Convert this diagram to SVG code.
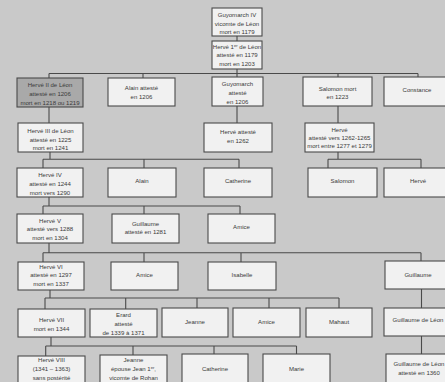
<svg xmlns="http://www.w3.org/2000/svg" width="445" height="382" viewBox="0 0 445 382">
<style>
.b{fill:#f1f1f1;stroke:#4a4a4a;stroke-width:1.1}
.g{fill:#a9a9a9;stroke:#4a4a4a;stroke-width:1.1}
text{font-family:"Liberation Sans",Arial,sans-serif;font-size:6.05px;fill:#3a3a3a;text-anchor:middle}
.c{fill:none;stroke:#4a4a4a;stroke-width:1.1}
.s{font-size:4.1px}
</style>
<rect width="445" height="382" fill="#c9c9c9"/>
<g id="connectors" class="c">
<path d="M237 36V41M237 69V73.5M49 73.5H418M49 73.5V78M143 73.5V78M237 73.5V77M338 73.5V77M418 73.5V77"/>
<path d="M49 107V123M237 106V123M338 106V123"/>
<path d="M50 152V159.3M43 159.3H239M43 159.3V168M144 159.3V168M239 159.3V168"/>
<path d="M338 152V159.3M328 159.3H421M328 159.3V168M421 159.3V168"/>
<path d="M49 197V206M43 206H240M43 206V214M144 206V214M240 206V214"/>
<path d="M49 243V252.7M43 252.7H421M43 252.7V262M144 252.7V262M241 252.7V262M421 252.7V261"/>
<path d="M50 290V298M45 298H339M45 298V309M125.7 298V309M197 298V308M269 298V308M339 298V308"/>
<path d="M421.5 289V308M421.5 336V354"/>
<path d="M51 337V346M45.7 346H296.5M45.7 346V356M133 346V355M214 346V354M296.5 346V354"/>
</g>
<g id="n1"><rect class="b" x="212" y="8" width="50" height="28"/><text><tspan x="237" y="17.2">Guyomarch IV</tspan><tspan x="237" y="25.5">vicomte de Léon</tspan><tspan x="237" y="33.9">mort en 1179</tspan></text></g>
<g id="n2"><rect class="b" x="212" y="41" width="50" height="28"/><text><tspan x="237" y="48.9">Hervé 1<tspan class="s" baseline-shift="super">er</tspan> de Léon</tspan><tspan x="237" y="57.2">attesté en 1179</tspan><tspan x="237" y="66">mort en 1203</tspan></text></g>
<g id="n3"><rect class="g" x="17" y="78" width="66" height="29"/><text><tspan x="50" y="87.2">Hervé II de Léon</tspan><tspan x="50" y="96.2">attesté en 1206</tspan><tspan x="50" y="104.9">mort en 1218 ou 1219</tspan></text></g>
<g id="n4"><rect class="b" x="108" y="78" width="67" height="28"/><text><tspan x="141.5" y="89.5">Alain attesté</tspan><tspan x="141.5" y="98.9">en 1206</tspan></text></g>
<g id="n5"><rect class="b" x="212" y="77" width="51" height="29"/><text><tspan x="237.5" y="86.2">Guyomarch</tspan><tspan x="237.5" y="94.5">attesté</tspan><tspan x="237.5" y="103.5">en 1206</tspan></text></g>
<g id="n6"><rect class="b" x="303" y="77" width="69" height="29"/><text><tspan x="337.5" y="90.5">Salomon mort</tspan><tspan x="337.5" y="98.9">en 1223</tspan></text></g>
<g id="n7"><rect class="b" x="384" y="77" width="68" height="29"/><text x="417" y="92.2">Constance</text></g>
<g id="n8"><rect class="b" x="18" y="123" width="65" height="29"/><text><tspan x="50.5" y="133.2">Hervé III de Léon</tspan><tspan x="50.5" y="141.5">attesté en 1225</tspan><tspan x="50.5" y="149.9">mort en 1241</tspan></text></g>
<g id="n9"><rect class="b" x="204" y="123" width="68" height="29"/><text><tspan x="238" y="133.9">Hervé attesté</tspan><tspan x="238" y="142.9">en 1262</tspan></text></g>
<g id="n10"><rect class="b" x="305" y="123" width="69" height="29"/><text><tspan x="339.5" y="131.5">Hervé</tspan><tspan x="339.5" y="139.9">attesté vers 1262-1265</tspan><tspan x="339.5" y="148.2">mort entre 1277 et 1279</tspan></text></g>
<g id="n11"><rect class="b" x="17" y="168" width="66" height="29"/><text><tspan x="50" y="177.2">Hervé IV</tspan><tspan x="50" y="186.2">attesté en 1244</tspan><tspan x="50" y="194.5">mort vers 1290</tspan></text></g>
<g id="n12"><rect class="b" x="108" y="168" width="68" height="29"/><text x="142" y="182.9">Alain</text></g>
<g id="n13"><rect class="b" x="204" y="168" width="68" height="29"/><text x="238" y="183.2">Catherine</text></g>
<g id="n14"><rect class="b" x="308" y="168" width="69" height="29"/><text x="342.5" y="183.2">Salomon</text></g>
<g id="n15"><rect class="b" x="384" y="168" width="68" height="29"/><text x="418" y="183.2">Hervé</text></g>
<g id="n16"><rect class="b" x="17" y="214" width="66" height="29"/><text><tspan x="50" y="222.9">Hervé V</tspan><tspan x="50" y="231.2">attesté vers 1288</tspan><tspan x="50" y="239.5">mort en 1304</tspan></text></g>
<g id="n17"><rect class="b" x="112" y="214" width="67" height="29"/><text><tspan x="145.5" y="225.5">Guillaume</tspan><tspan x="145.5" y="233.9">attesté en 1281</tspan></text></g>
<g id="n18"><rect class="b" x="208" y="214" width="67" height="29"/><text x="241.5" y="228.9">Amice</text></g>
<g id="n19"><rect class="b" x="18" y="262" width="66" height="28"/><text><tspan x="51" y="268.9">Hervé VI</tspan><tspan x="51" y="277.2">attesté en 1297</tspan><tspan x="51" y="285.5">mort en 1337</tspan></text></g>
<g id="n20"><rect class="b" x="111" y="262" width="67" height="28"/><text x="144.5" y="277.2">Amice</text></g>
<g id="n21"><rect class="b" x="208" y="262" width="68" height="28"/><text x="242" y="277.2">Isabelle</text></g>
<g id="n22"><rect class="b" x="385" y="261" width="67" height="28"/><text x="418" y="276.5">Guillaume</text></g>
<g id="n23"><rect class="b" x="18" y="309" width="67" height="28"/><text><tspan x="51.5" y="322.2">Hervé VII</tspan><tspan x="51.5" y="330.5">mort en 1344</tspan></text></g>
<g id="n24"><rect class="b" x="90" y="309" width="67" height="28"/><text><tspan x="123.5" y="316.5">Erard</tspan><tspan x="123.5" y="325.5">attesté</tspan><tspan x="123.5" y="334.5">de 1339 à 1371</tspan></text></g>
<g id="n25"><rect class="b" x="162" y="308" width="66" height="29"/><text x="195" y="323.9">Jeanne</text></g>
<g id="n26"><rect class="b" x="233" y="308" width="67" height="29"/><text x="266.5" y="323.9">Amice</text></g>
<g id="n27"><rect class="b" x="306" y="308" width="66" height="29"/><text x="339" y="323.9">Mahaut</text></g>
<g id="n28"><rect class="b" x="384" y="308" width="68" height="28"/><text x="418" y="322.2">Guillaume de Léon</text></g>
<g id="n29"><rect class="b" x="18" y="356" width="67" height="40"/><text><tspan x="51.5" y="362">Hervé VIII</tspan><tspan x="51.5" y="371">(1341 – 1363)</tspan><tspan x="51.5" y="380">sans postérité</tspan></text></g>
<g id="n30"><rect class="b" x="100" y="355" width="67" height="40"/><text><tspan x="133.5" y="361.5">Jeanne</tspan><tspan x="133.5" y="370.5">épouse Jean 1<tspan class="s" baseline-shift="super">er</tspan>,</tspan><tspan x="133.5" y="379.5">vicomte de Rohan</tspan></text></g>
<g id="n31"><rect class="b" x="182" y="354" width="66" height="40"/><text x="215" y="370.5">Catherine</text></g>
<g id="n32"><rect class="b" x="263" y="354" width="67" height="40"/><text x="296.5" y="370.5">Marie</text></g>
<g id="n33"><rect class="b" x="386" y="354" width="66" height="40"/><text><tspan x="419" y="365.5">Guillaume de Léon</tspan><tspan x="419" y="374.9">attesté en 1360</tspan></text></g>
</svg>
